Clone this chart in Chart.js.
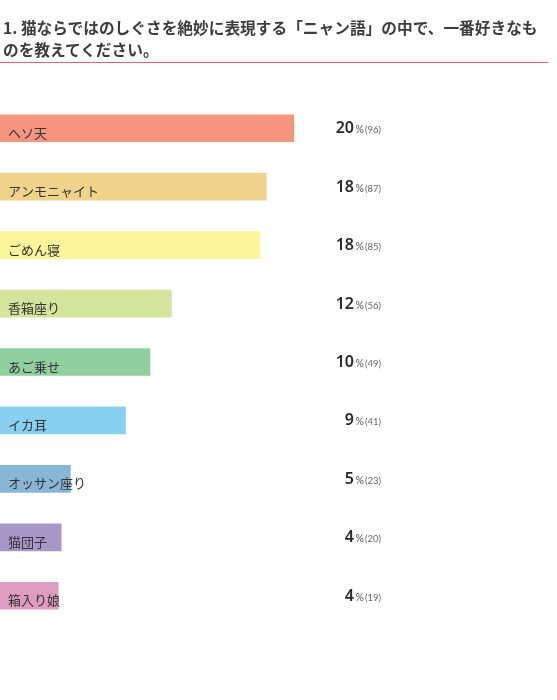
<!DOCTYPE html>
<html>
<head>
<meta charset="utf-8">
<script src="https://cdn.jsdelivr.net/npm/chart.js@4"></script>
<style>
  html, body { margin: 0; padding: 0; background: #fff; }
  #wrap { position: relative; width: 557px; height: 700px; overflow: hidden; }
  #title {
    position: absolute; left: 3px; top: 17px;
    font-family: "Noto Sans CJK JP", sans-serif; font-weight: 700;
    font-size: 15.7px; line-height: 22px; color: #3c3c3c; white-space: nowrap;
  }
  #rule { position: absolute; left: 0; top: 62px; width: 548px; height: 1px; background: #e2606c; }
  canvas { position: absolute; left: 0; top: 0; }
</style>
</head>
<body>
<div id="wrap">
  <canvas id="c" width="557" height="700"></canvas>
  <div id="title">1. 猫ならではのしぐさを絶妙に表現する「ニャン語」の中で、一番好きなも<br>のを教えてください。</div>
  <div id="rule"></div>
</div>
<script>
const categories = ["ヘソ天", "アンモニャイト", "ごめん寝", "香箱座り", "あご乗せ", "イカ耳", "オッサン座り", "猫団子", "箱入り娘"];
const counts = [96, 87, 85, 56, 49, 41, 23, 20, 19];
const percents = [20, 18, 18, 12, 10, 9, 5, 4, 4];
const barColors = ["#f5957f", "#f0d38b", "#fcf59b", "#d3e49c", "#8fcfa0", "#87d0f0", "#89b6d6", "#a898c8", "#dd9cc0"];

const labelPlugin = {
  id: "labels",
  afterDatasetsDraw(chart) {
    const ctx = chart.ctx;
    const meta = chart.getDatasetMeta(0);
    const area = chart.chartArea;
    const numFont = '600 16px "Noto Sans", sans-serif';
    const pctFont = '10.5px Lato, "Noto Sans", sans-serif';
    const cntFont = '9.5px Lato, "Noto Sans", sans-serif';
    ctx.save();
    meta.data.forEach((bar, i) => {
      const half = bar.height / 2;
      // category label inside bar
      ctx.font = '13px "Noto Sans CJK JP", sans-serif';
      ctx.fillStyle = "#333";
      ctx.textAlign = "left";
      ctx.textBaseline = "alphabetic";
      ctx.fillText(categories[i], area.left + 8, bar.y + half - 4);
      // value text right-aligned
      const rightX = area.left + 381;
      const baseY = bar.y + 5;
      const numStr = String(percents[i]);
      const pctStr = "%";
      const cntStr = "(" + counts[i] + ")";
      ctx.font = numFont;
      const wNum = ctx.measureText(numStr).width;
      ctx.font = pctFont;
      const wPct = ctx.measureText(pctStr).width;
      ctx.font = cntFont;
      const wCnt = ctx.measureText(cntStr).width;
      let x = rightX - wCnt - wPct - 1 - wNum - 1.5;
      ctx.font = numFont;
      ctx.fillStyle = "#2a2a2a";
      ctx.fillText(numStr, x, baseY);
      x += wNum + 1.5;
      ctx.font = pctFont;
      ctx.fillStyle = "#555";
      ctx.fillText(pctStr, x, baseY);
      x += wPct + 1;
      ctx.font = cntFont;
      ctx.fillStyle = "#666";
      ctx.fillText(cntStr, x, baseY);
    });
    ctx.restore();
  }
};

new Chart(document.getElementById("c"), {
  type: "bar",
  data: {
    labels: categories,
    datasets: [{
      data: counts,
      backgroundColor: barColors,
      borderWidth: 0,
      barThickness: 27
    }]
  },
  options: {
    indexAxis: "y",
    responsive: false,
    animation: false,
    devicePixelRatio: 1,
    layout: { padding: { top: 99, bottom: 75, left: 0, right: 0 } },
    plugins: { legend: { display: false }, tooltip: { enabled: false }, title: { display: false } },
    scales: {
      x: { display: false, min: 0, max: 182 },
      y: { display: false, offset: true }
    }
  },
  plugins: [labelPlugin]
});
</script>
</body>
</html>
